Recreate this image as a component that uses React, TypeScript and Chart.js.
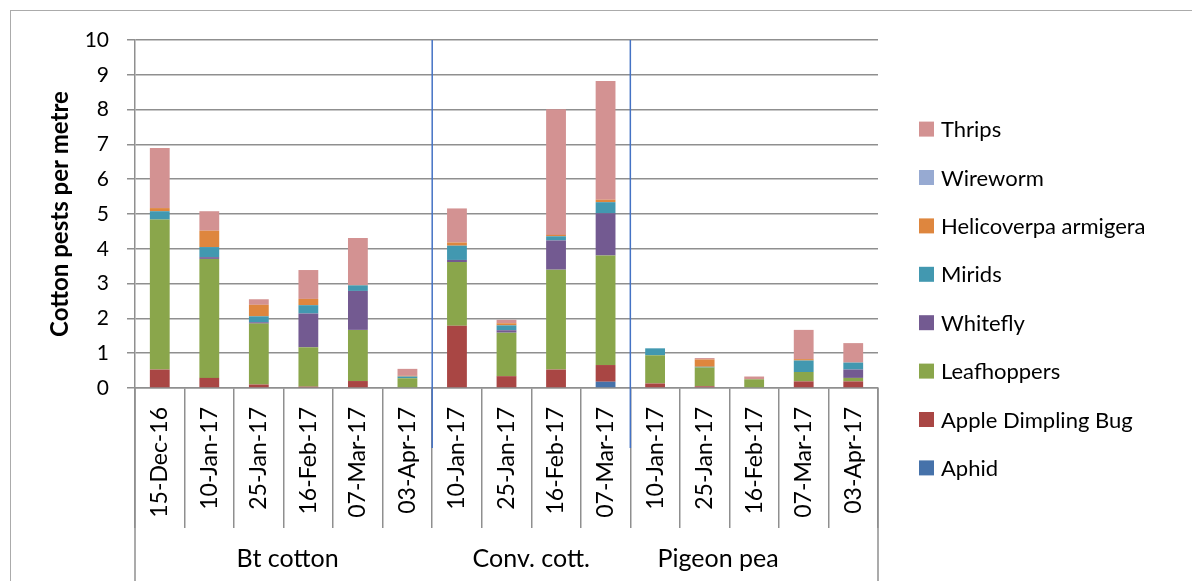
import React, { useEffect, useRef } from 'react';
import { Chart, registerables } from 'chart.js';

Chart.register(...registerables);

// ---------- data ----------
const categories = [
  '15-Dec-16', '10-Jan-17', '25-Jan-17', '16-Feb-17', '07-Mar-17', '03-Apr-17',
  '10-Jan-17', '25-Jan-17', '16-Feb-17', '07-Mar-17',
  '10-Jan-17', '25-Jan-17', '16-Feb-17', '07-Mar-17', '03-Apr-17',
];
const groupNames = ['Bt cotton', 'Conv. cott.', 'Pigeon pea'];
const groupSizes = [6, 4, 5];

const aphid = [0, 0, 0, 0, 0, 0, 0, 0, 0, 0.18, 0, 0, 0, 0, 0];
const appleDimplingBug = [0.53, 0.29, 0.1, 0.04, 0.2, 0, 1.79, 0.34, 0.53, 0.48, 0.13, 0.05, 0, 0.19, 0.19];
const leafhoppers = [4.31, 3.42, 1.75, 1.13, 1.47, 0.28, 1.83, 1.25, 2.87, 3.15, 0.81, 0.54, 0.25, 0.27, 0.1];
const whitefly = [0, 0.05, 0.04, 0.97, 1.12, 0, 0.06, 0.07, 0.84, 1.21, 0, 0, 0, 0, 0.24];
const mirids = [0.24, 0.29, 0.17, 0.24, 0.16, 0.05, 0.41, 0.14, 0.12, 0.32, 0.2, 0.02, 0, 0.33, 0.2];
const helicoverpa = [0.09, 0.47, 0.33, 0.18, 0.01, 0.02, 0.09, 0.06, 0.04, 0.07, 0, 0.21, 0, 0.04, 0];
const wireworm = [0, 0, 0, 0, 0, 0, 0, 0, 0, 0, 0, 0, 0, 0, 0];
const thrips = [1.73, 0.56, 0.16, 0.83, 1.35, 0.2, 0.98, 0.1, 3.61, 3.41, 0, 0.04, 0.08, 0.84, 0.56];

const yMin = 0;
const yMax = 10;
const yStep = 1;

// ---------- styles ----------
const FONT = 'Lato, "Noto Sans", sans-serif';
const GRID = '#8F8F8F';
const BLUE = '#4472C4';
const seriesStyle = [
  { label: 'Aphid', data: aphid, color: '#4672AA' },
  { label: 'Apple Dimpling Bug', data: appleDimplingBug, color: '#A94644' },
  { label: 'Leafhoppers', data: leafhoppers, color: '#8AA64B' },
  { label: 'Whitefly', data: whitefly, color: '#735A91' },
  { label: 'Mirids', data: mirids, color: '#4298B0' },
  { label: 'Helicoverpa armigera', data: helicoverpa, color: '#DE863E' },
  { label: 'Wireworm', data: wireworm, color: '#97AAD2' },
  { label: 'Thrips', data: thrips, color: '#D39292' },
];
const groupLabelShift = [4, 0, -36];

const decorPlugin = {
  id: 'decor',
  beforeDraw(chart: any) {
    const { ctx } = chart;
    ctx.save();
    ctx.fillStyle = '#ffffff';
    ctx.fillRect(0, 0, chart.width, chart.height);
    ctx.strokeStyle = '#ABABAB';
    ctx.lineWidth = 1;
    ctx.strokeRect(10.5, 10.5, chart.width + 20, chart.height + 20);
    ctx.restore();
  },
  afterDraw(chart: any) {
    const { ctx, chartArea: area } = chart;
    const xs = chart.scales.x;
    const step = xs.getPixelForValue(1) - xs.getPixelForValue(0);
    const edge = (i: number) => xs.getPixelForValue(i) - step / 2;
    const n = categories.length;
    ctx.save();
    // outer long separators
    ctx.strokeStyle = GRID;
    ctx.lineWidth = 1.5;
    [edge(0), edge(n)].forEach((px) => {
      ctx.beginPath();
      ctx.moveTo(px, area.bottom);
      ctx.lineTo(px, chart.height);
      ctx.stroke();
    });
    // group separators + labels
    let start = 0;
    ctx.font = `25px ${FONT}`;
    ctx.fillStyle = '#000';
    ctx.textAlign = 'center';
    ctx.textBaseline = 'alphabetic';
    groupSizes.forEach((size, g) => {
      const s = edge(start);
      const e = edge(start + size);
      if (g > 0) {
        ctx.strokeStyle = BLUE;
        ctx.lineWidth = 1.5;
        ctx.beginPath();
        ctx.moveTo(s, area.top);
        ctx.lineTo(s, area.bottom + 60);
        ctx.stroke();
      }
      ctx.fillText(groupNames[g], (s + e) / 2 + groupLabelShift[g], area.bottom + 179);
      start += size;
    });
    // legend (reversed order, like the reference)
    const items = chart.data.datasets.slice().reverse();
    const rowH = 48.4;
    const centerY = 298.5;
    const top = centerY - ((items.length - 1) / 2) * rowH;
    const bx = area.right + 41;
    ctx.font = `22px ${FONT}`;
    ctx.textAlign = 'left';
    ctx.textBaseline = 'middle';
    items.forEach((ds: any, k: number) => {
      const cy = top + k * rowH;
      ctx.fillStyle = ds.backgroundColor;
      ctx.fillRect(bx, cy - 7.5, 15, 15);
      ctx.fillStyle = '#000';
      ctx.fillText(ds.label, bx + 22, cy + 1);
    });
    ctx.restore();
  },
};

export default function App() {
  const ref = useRef<HTMLCanvasElement>(null);
  useEffect(() => {
    if (!ref.current) return;
    const chart = new Chart(ref.current, {
      type: 'bar',
      data: {
        labels: categories,
        datasets: seriesStyle.map((s) => ({
          label: s.label,
          data: s.data,
          backgroundColor: s.color,
          borderWidth: 0,
          barPercentage: 0.4,
          categoryPercentage: 1,
        })),
      },
      options: {
        responsive: false,
        animation: false,
        devicePixelRatio: 1,
        layout: { padding: { top: 40, right: 314, bottom: 0, left: 0 } },
        plugins: { legend: { display: false }, tooltip: { enabled: false } },
        scales: {
          x: {
            stacked: true,
            grid: {
              display: true,
              offset: true,
              drawOnChartArea: false,
              drawTicks: true,
              tickLength: 140,
              color: GRID,
              lineWidth: 1.5,
            },
            border: { display: true, color: GRID, width: 1.5 },
            ticks: {
              autoSkip: false,
              minRotation: 90,
              maxRotation: 90,
              padding: -121,
              color: '#000',
              font: { family: FONT, size: 23 },
            },
            afterFit: (s: any) => {
              s.height = 193;
            },
          },
          y: {
            stacked: true,
            min: yMin,
            max: yMax,
            ticks: {
              stepSize: yStep,
              padding: 18,
              color: '#000',
              font: { family: FONT, size: 21 },
            },
            grid: { color: GRID, lineWidth: 1.5, tickLength: 8 },
            border: { display: true, color: GRID, width: 1.5 },
            title: {
              display: true,
              text: 'Cotton pests per metre',
              color: '#000',
              font: { family: FONT, size: 24, weight: 'bold' },
              padding: { top: 46, bottom: 0 },
            },
            afterFit: (s: any) => {
              s.width = 135;
            },
          },
        },
      },
      plugins: [decorPlugin],
    } as any);
    return () => chart.destroy();
  }, []);
  return (
    <div style={{ position: 'absolute', left: 0, top: 0, width: 1192, height: 581, background: '#fff' }}>
      <canvas ref={ref} width={1192} height={581} style={{ display: 'block' }} />
    </div>
  );
}
